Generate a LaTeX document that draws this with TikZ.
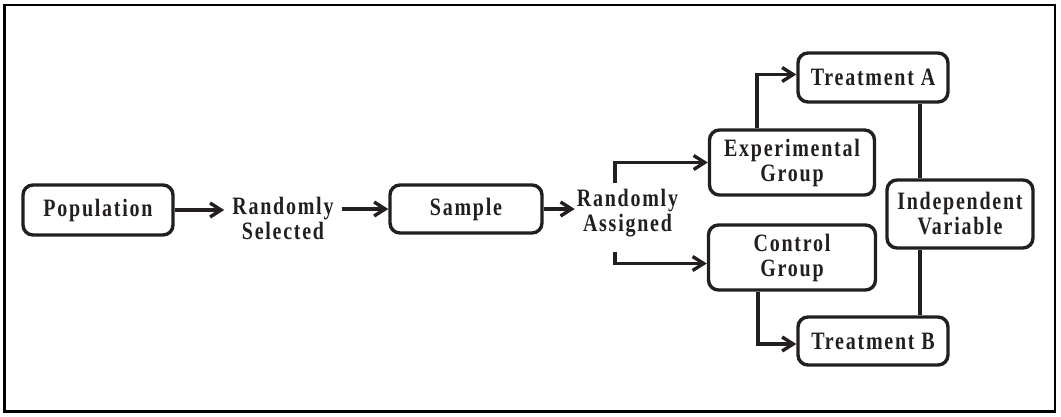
\documentclass[tikz,border=0pt]{standalone}
\usepackage{fontspec}
\setmainfont{Liberation Serif}[FakeStretch=0.8, LetterSpace=7]
\usetikzlibrary{arrows.meta,calc}
\definecolor{ink}{HTML}{231F20}
\begin{document}
\begin{tikzpicture}[x=1pt, y=-1pt,
  txt/.style={font=\fontsize{25}{25}\selectfont\bfseries, text=ink, align=center},
  box/.style={txt, draw=ink, line width=3.4pt, rounded corners=10pt, inner sep=0pt},
  lbl/.style={txt, inner ysep=0pt},
  link/.style={draw=ink, line width=3.4pt},
  arr/.style={link, -{Straight Barb[length=11pt, width=14pt]}}
]
\useasboundingbox (0,0) rectangle (1061,416);
% outer frame
\draw[black, line width=2.2pt] (4.5,5) rectangle (1055,411.5);

% boxes
\node[box, minimum width=150pt, minimum height=50pt] (pop) at (98,210) {Population};
\node[box, minimum width=152pt, minimum height=48pt] (smp) at (466,209) {Sample};
\node[box, minimum width=165pt, minimum height=65pt] (exp) at (792,162.5) {Experimental\\Group};
\node[box, minimum width=167pt, minimum height=65pt] (ctl) at (792,257.5) {Control\\Group};
\node[box, minimum width=150pt, minimum height=49pt] (ta) at (873,77.5) {Treatment A};
\node[box, minimum width=150pt, minimum height=48pt] (tb) at (873,341) {Treatment B};
\node[box, minimum width=146pt, minimum height=68pt] (iv) at (960,214) {Independent\\Variable};

% step labels
\node[lbl, inner xsep=8pt] (rs) at (283,218.5) {Randomly\\Selected};
\node[lbl, inner xsep=2pt] (ra) at (627.5,213.5) {Randomly\\Assigned};

% branch points and vertical rails
\coordinate (raN) at (615,183);
\coordinate (raS) at (615,252);
\coordinate (vx) at (920,0);

% connectors
\draw[arr] (pop.east) -- (rs.west |- pop.east);
\draw[arr] (rs.east |- smp.west) -- (smp.west);
\draw[arr] (smp.east) -- (ra.west |- smp.east);
\draw[arr] (raN) |- (exp.west);
\draw[arr] (raS) |- ($(ctl.west)+(0,6)$);
\draw[arr] ($(exp.north)+(-35,0)$) |- ($(ta.west)+(0,-3)$);
\draw[arr] ($(ctl.south)+(-34,0)$) |- ($(tb.west)+(0,3)$);
\draw[link] (ta.south -| vx) -- (iv.north -| vx);
\draw[link] (iv.south -| vx) -- (tb.north -| vx);
\end{tikzpicture}
\end{document}
